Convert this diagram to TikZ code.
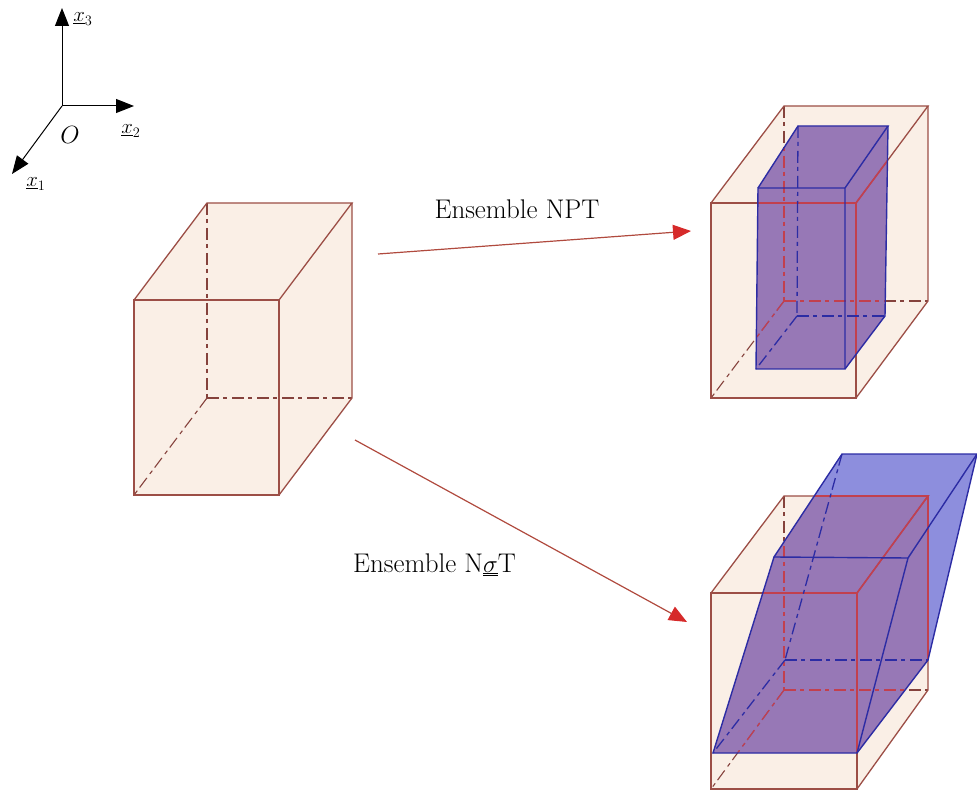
\documentclass[tikz,border=0pt]{standalone}
\usetikzlibrary{arrows.meta}
\definecolor{beige}{HTML}{FAEFE6}
\definecolor{edgebrown}{HTML}{9C4E46}
\definecolor{boxblue}{HTML}{5254CC}
\definecolor{edgeblue}{HTML}{2C2CA4}
\definecolor{arrowred}{HTML}{D62A2A}
\definecolor{lineRed}{HTML}{B04A3E}
\definecolor{seenred}{HTML}{C2404E}
\tikzset{
  x=1pt,y=-1pt,
  face/.style={fill=beige,draw=none},
  edge/.style={draw=edgebrown,line width=1.3pt},
  hidpat/.style={dash pattern=on 12pt off 4pt on 4pt off 5pt},
  hid/.style={draw=edgebrown!85!black,line width=1.1pt,hidpat},
  bface/.style={fill=boxblue,fill opacity=0.66,draw=none},
  tint/.style={fill=seenred,fill opacity=0.22,draw=none},
  redge/.style={draw=seenred,line width=1.6pt},
  rhid/.style={draw=seenred,line width=1.2pt,hidpat},
  bedge/.style={draw=edgeblue,line width=1.4pt},
  bhid/.style={draw=edgeblue,line width=1.3pt,hidpat},
  flow/.style={draw=lineRed,line width=1.2pt,-{Triangle[length=18pt,width=15pt,color=arrowred]}},
  axis/.style={draw=black,line width=1pt,-{Triangle[length=18pt,width=14pt]}},
  lbl/.style={font=\fontsize{27}{32}\selectfont,inner sep=0pt},
  axlbl/.style={font=\fontsize{22}{26}\selectfont,inner sep=0pt},
}
\newcommand{\cuboid}[8]{%
  \fill[face] (#1) -- (#5) -- (#6) -- (#7) -- (#3) -- (#4) -- cycle;
  \draw[hid] (#5) -- (#8);
  \draw[hid] (#8) -- (#7);
  \draw[hid] (#8) -- (#4);
  \draw[edge] (#1) -- (#2) -- (#3) -- (#4) -- cycle;
  \draw[edge] (#1) -- (#5) -- (#6) -- (#2);
  \draw[edge] (#6) -- (#7) -- (#3);
}
% #1-#8 blue solid, #9 cube prefix
\newcommand{\bluebox}[9]{%
  \fill[bface] (#1) -- (#5) -- (#6) -- (#7) -- (#3) -- (#4) -- cycle;
  \begin{scope}
    \clip (#1) -- (#5) -- (#6) -- (#7) -- (#3) -- (#4) -- cycle;
    \fill[tint] (#91) -- (#95) -- (#96) -- (#97) -- (#93) -- (#94) -- cycle;
    \draw[rhid] (#95) -- (#98);
    \draw[rhid] (#98) -- (#97);
    \draw[rhid] (#98) -- (#94);
    \draw[redge] (#91) -- (#92) -- (#93) -- (#94) -- cycle;
    \draw[redge] (#91) -- (#95) -- (#96) -- (#92);
    \draw[redge] (#96) -- (#97) -- (#93);
  \end{scope}
  \draw[bhid] (#5) -- (#8);
  \draw[bhid] (#8) -- (#7);
  \draw[bhid] (#8) -- (#4);
  \draw[bedge] (#1) -- (#2) -- (#3) -- (#4) -- cycle;
  \draw[bedge] (#1) -- (#5) -- (#6) -- (#2);
  \draw[bedge] (#6) -- (#7) -- (#3);
}
\begin{document}
\begin{tikzpicture}
\useasboundingbox (0,0) rectangle (977,791);
% axes
\coordinate (O) at (62,106);
\coordinate (e3) at (62,8);
\coordinate (e2) at (134,106);
\coordinate (e1) at (12,174);
\draw[axis] (O) -- (e3);
\draw[axis] (O) -- (e2);
\draw[axis] (O) -- (e1);
\node[axlbl] (l3) at (83,19) {$\underline{x}_3$};
\node[axlbl] (l2) at (131,131) {$\underline{x}_2$};
\node[axlbl] (l1) at (36,184) {$\underline{x}_1$};
\node[inner sep=0pt,font=\fontsize{27}{32}\selectfont] (lO) at (70,135) {$O$};
% left cube
\coordinate (a1) at (134,300); \coordinate (a2) at (279,300);
\coordinate (a3) at (279,495); \coordinate (a4) at (134,495);
\coordinate (a5) at (207,203); \coordinate (a6) at (352,203);
\coordinate (a7) at (352,398); \coordinate (a8) at (207,398);
\cuboid{a1}{a2}{a3}{a4}{a5}{a6}{a7}{a8}
% top right cube
\coordinate (b1) at (711,203); \coordinate (b2) at (856,203);
\coordinate (b3) at (856,398); \coordinate (b4) at (711,398);
\coordinate (b5) at (784,106); \coordinate (b6) at (928,106);
\coordinate (b7) at (928,301); \coordinate (b8) at (784,301);
\cuboid{b1}{b2}{b3}{b4}{b5}{b6}{b7}{b8}
\coordinate (c1) at (758,188); \coordinate (c2) at (845,188);
\coordinate (c3) at (845,369); \coordinate (c4) at (756,369);
\coordinate (c5) at (798,126); \coordinate (c6) at (888,126);
\coordinate (c7) at (885,316); \coordinate (c8) at (797,316);
\bluebox{c1}{c2}{c3}{c4}{c5}{c6}{c7}{c8}{b}
% bottom right cube
\coordinate (d1) at (711,593); \coordinate (d2) at (857,593);
\coordinate (d3) at (857,789); \coordinate (d4) at (711,789);
\coordinate (d5) at (784,496); \coordinate (d6) at (928,496);
\coordinate (d7) at (928,690); \coordinate (d8) at (784,690);
\cuboid{d1}{d2}{d3}{d4}{d5}{d6}{d7}{d8}
\coordinate (f1) at (774,557); \coordinate (f2) at (908,558);
\coordinate (f3) at (857,753); \coordinate (f4) at (713,753);
\coordinate (f5) at (842,454); \coordinate (f6) at (977,454);
\coordinate (f7) at (928,660); \coordinate (f8) at (785,660);
\bluebox{f1}{f2}{f3}{f4}{f5}{f6}{f7}{f8}{d}
% flows
\coordinate (s1) at (378,254); \coordinate (t1) at (691,231);
\coordinate (s2) at (355,440); \coordinate (t2) at (687,622);
\draw[flow] (s1) -- (t1);
\draw[flow] (s2) -- (t2);
\node[lbl] (n1) at (517,209) {Ensemble NPT};
\node[lbl,anchor=base west] (n2) at (353,572) {Ensemble N$\underline{\underline{\sigma}}$T};
\end{tikzpicture}
\end{document}
